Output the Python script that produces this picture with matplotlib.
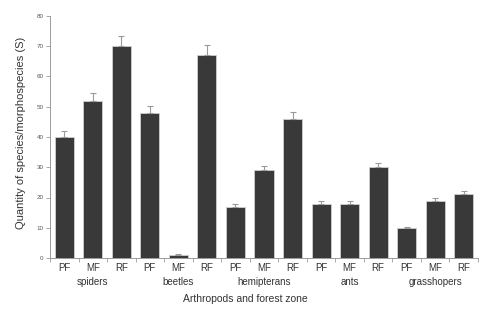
import numpy as np
import matplotlib
matplotlib.use("Agg")
import matplotlib.pyplot as plt

plt.rcParams['font.family'] = ['Liberation Sans', 'DejaVu Sans']

# bars in plot order: 5 groups x 3 forest zones
groups = ["spiders", "beetles", "hemipterans", "ants", "grasshopers"]
zones = ["PF", "MF", "RF"]
values = [40, 52, 70, 48, 1, 67, 17, 29, 46, 18, 18, 30, 10, 19, 21]
errors = [2, 2.5, 3.5, 2.3, 0.2, 3.5, 1, 1.5, 2.3, 1, 1, 1.5, 0.4, 1, 1]

n = len(values)
x = np.arange(n)
labels = zones * len(groups)

fig = plt.figure(figsize=(4.92, 3.12), dpi=100)
ax = fig.add_axes([50/492, 1 - 258/312, 428/492, 242/312])

ax.bar(x, values, width=0.67, color='#393939', edgecolor='#cfcfcf', linewidth=0.6,
       yerr=[np.zeros(n), errors], error_kw=dict(ecolor='#9a9a9a', elinewidth=0.8,
                                                 capsize=2.5, capthick=0.8))

ax.set_xlim(-0.5, n - 0.5)
ax.set_ylim(0, 80)
ax.set_yticks(range(0, 81, 10))
ax.tick_params(axis='y', labelsize=4.5, labelcolor='#555555', color='#9a9a9a',
               length=3, width=0.6, pad=1.5)

# category labels sit between boundary ticks
ax.set_xticks(np.arange(-0.5, n, 1))
ax.set_xticklabels([])
ax.set_xticks(x, minor=True)
ax.set_xticklabels(labels, minor=True)
ax.tick_params(axis='x', which='major', length=3, width=0.6, color='#9a9a9a')
ax.tick_params(axis='x', which='minor', length=0, labelsize=7, labelcolor='#333333', pad=3.5)

for i, g in enumerate(groups):
    ax.text(i * 3 + 1, -0.099, g, transform=ax.get_xaxis_transform(),
            ha='center', va='center', fontsize=7, color='#333333')

ax.set_xlabel("Arthropods and forest zone", fontsize=7.5, color='#333333', va='center')
ax.xaxis.set_label_coords(0.456, -0.169)
ax.set_ylabel("Quantity of species/morphospecies (S)", fontsize=8, color='#333333', va='center')
ax.yaxis.set_label_coords(-0.068, 0.517)

for s in ['top', 'right']:
    ax.spines[s].set_visible(False)
for s in ['left', 'bottom']:
    ax.spines[s].set_color('#9a9a9a')
    ax.spines[s].set_linewidth(0.7)

fig.savefig("out.png", dpi=100)
